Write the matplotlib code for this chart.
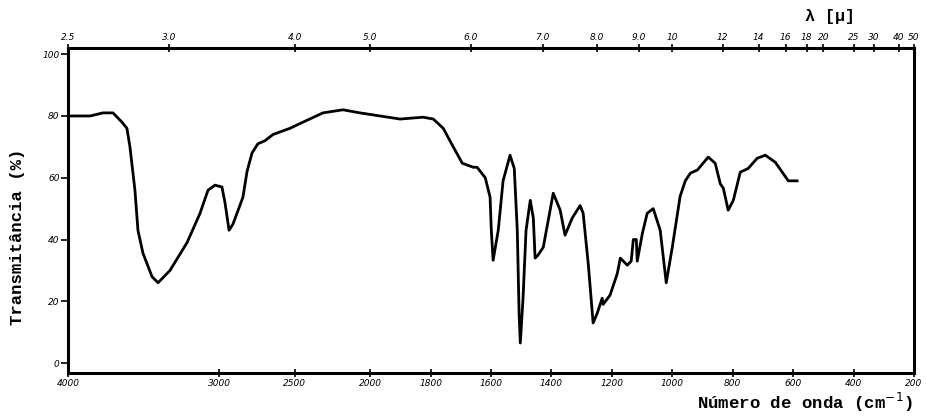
import matplotlib
matplotlib.use("Agg")
import matplotlib.pyplot as plt
import numpy as np

# IR spectrum
wavenumber = [4000, 3854, 3768, 3702, 3643, 3610, 3590, 3557, 3537, 3504, 3444, 3404,
              3325, 3212, 3126, 3073, 3027, 2981, 2961, 2934, 2908, 2842, 2815, 2782,
              2743, 2696, 2643, 2531, 2418, 2312, 2180, 2068, 1967, 1901, 1825, 1791,
              1758, 1725, 1695, 1659, 1646, 1619, 1603, 1599, 1593, 1576, 1560, 1537,
              1523, 1513, 1507, 1503, 1494, 1484, 1470, 1460, 1454, 1444, 1427, 1411,
              1394, 1371, 1355, 1331, 1305, 1295, 1278, 1262, 1249, 1232, 1229, 1206,
              1182, 1172, 1149, 1136, 1129, 1119, 1116, 1099, 1083, 1063, 1040, 1020,
              1000, 974, 957, 940, 917, 881, 858, 841, 831, 815, 798, 775, 749, 719,
              692, 659, 616, 597, 587]
transmittance = [80, 80, 81, 81, 78, 76, 70, 56, 43, 35.6, 28, 26,
                 30, 39, 48.5, 56, 57.6, 57, 52, 43, 45, 53.7, 62, 68,
                 71, 72, 74, 76, 78.6, 81, 82, 81, 80, 79, 79.6, 79,
                 76, 70, 64.7, 63.4, 63.4, 60, 53.7, 43, 33.3, 43, 59, 67.3,
                 63, 43, 16, 6.5, 21, 43, 52.7, 47, 34, 35, 37.5, 46,
                 55, 49.5, 41.4, 47, 51, 48.5, 32, 13, 16, 21, 19, 22,
                 29, 34, 31.7, 33, 40, 40, 33, 42, 48.5, 50, 43, 26,
                 37.5, 54, 59, 61.5, 62.5, 66.7, 64.7, 58, 56.6, 49.5, 52.7, 61.8, 63, 66.3,
                 67.3, 65, 59, 59, 59]

bottom_ticks = [4000, 3000, 2500, 2000, 1800, 1600, 1400, 1200, 1000, 800, 600, 400, 200]
top_lambda = [2.5, 3.0, 4.0, 5.0, 6.0, 7.0, 8.0, 9.0, 10, 12, 14, 16, 18, 20, 25, 30, 40, 50]
top_labels = ["2.5", "3.0", "4.0", "5.0", "6.0", "7.0", "8.0", "9.0", "10", "12", "14",
              "16", "18", "20", "25", "30", "40", "50"]
y_ticks = [0, 20, 40, 60, 80, 100]


# grating spectrometer scale: 4000-2000 cm-1 compressed by half
def fwd(x):
    x = np.asarray(x, dtype=float)
    return np.where(x > 2000, 2000 + (x - 2000) / 2.0, x)


def inv(y):
    y = np.asarray(y, dtype=float)
    return np.where(y > 2000, 2000 + (y - 2000) * 2.0, y)


fig = plt.figure(figsize=(9.26, 4.16), dpi=100)
ax = fig.add_axes([68 / 926, 43 / 416, 846 / 926, 325 / 416])
ax.set_xscale("function", functions=(fwd, inv))
ax.plot(wavenumber, transmittance, color="black", lw=2, solid_joinstyle="round")
ax.set_xlim(4000, 200)
ax.set_ylim(-3.2, 102)

for s in ax.spines.values():
    s.set_linewidth(2.2)

ax.set_xticks(bottom_ticks)
ax.set_xticklabels([str(t) for t in bottom_ticks], fontsize=6.5, style="italic")
ax.tick_params(axis="x", direction="inout", length=6, width=1.2, pad=1)
ax.set_yticks(y_ticks)
ax.set_yticklabels([str(t) for t in y_ticks], fontsize=6.5, style="italic")
ax.tick_params(axis="y", direction="out", length=5, width=1.2, pad=1)

ax2 = ax.twiny()
ax2.set_xscale("function", functions=(fwd, inv))
ax2.set_xlim(4000, 200)
ax2.set_xticks([1e4 / l for l in top_lambda])
ax2.set_xticklabels(top_labels, fontsize=6.5, style="italic")
ax2.tick_params(axis="x", direction="inout", length=6, width=1.2, pad=1)
for s in ax2.spines.values():
    s.set_visible(False)

mono = ["Liberation Mono", "DejaVu Sans Mono"]
fig.text(18 / 926, 1 - 237 / 416, "Transmitância (%)", rotation=90, ha="center",
         va="center", fontsize=12.5, fontweight="bold", family=mono)
fig.text(913 / 926, 1 - 402 / 416, "Número de onda (cm$^{-1}$)", ha="right",
         va="center", fontsize=12.5, fontweight="bold", family=mono)
fig.text(830 / 926, 1 - 16 / 416, "λ [μ]", ha="center", va="center",
         fontsize=12, fontweight="bold", family=mono)

plt.savefig("out.png", dpi=100)
